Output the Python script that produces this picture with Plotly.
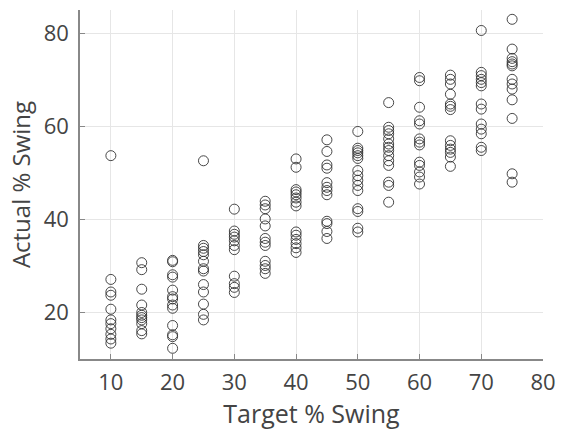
import plotly.graph_objects as go

targets = [10, 15, 20, 25, 30, 35, 40, 45, 50, 55, 60, 65, 70, 75]
actual_10 = [53.7, 27.1, 24.4, 23.7, 20.7, 18.4, 17.6, 16.5, 15.3, 14.3, 13.4]
actual_15 = [30.7, 29.2, 25.0, 21.6, 20.0, 19.4, 18.9, 18.4, 17.6, 16.1, 15.4]
actual_20 = [31.2, 30.9, 28.1, 27.6, 24.8, 23.4, 22.9, 21.6, 20.9, 17.2, 15.2, 14.8, 12.3]
actual_25 = [52.6, 34.4, 33.8, 33.1, 32.4, 31.0, 29.4, 28.9, 26.0, 24.4, 21.8, 19.6, 18.4]
actual_30 = [42.2, 37.5, 36.8, 36.2, 35.4, 34.4, 33.5, 27.8, 26.2, 25.4, 24.3]
actual_35 = [43.9, 43.1, 42.3, 40.1, 38.6, 35.9, 35.1, 34.4, 31.0, 30.1, 29.4, 28.4]
actual_40 = [53.0, 51.2, 46.4, 45.9, 45.3, 44.6, 43.7, 42.9, 37.3, 36.6, 35.7, 34.8, 33.9, 32.9]
actual_45 = [57.1, 54.6, 51.7, 51.0, 47.9, 46.9, 46.2, 45.3, 39.6, 39.1, 37.4, 35.9]
actual_50 = [58.9, 55.3, 54.8, 54.3, 53.7, 53.1, 50.5, 49.4, 48.4, 47.3, 46.2, 42.3, 41.7, 38.1, 37.3]
actual_55 = [65.1, 59.8, 59.1, 58.4, 57.3, 56.2, 55.5, 54.8, 53.7, 52.6, 51.6, 48.0, 47.3, 43.7]
actual_60 = [70.5, 69.8, 64.1, 61.2, 60.5, 57.3, 56.6, 56.0, 52.3, 51.6, 50.2, 49.1, 47.6]
actual_65 = [71.0, 70.1, 69.1, 66.9, 64.8, 64.3, 63.6, 56.9, 55.9, 55.1, 54.4, 53.4, 51.4]
actual_70 = [80.6, 71.6, 70.9, 70.1, 69.4, 68.7, 64.8, 63.7, 60.5, 59.4, 58.4, 55.5, 54.8]
actual_75 = [83.0, 76.6, 74.6, 73.9, 73.4, 73.0, 70.1, 69.1, 68.0, 65.7, 61.7, 49.8, 48.0]

groups = [actual_10, actual_15, actual_20, actual_25, actual_30, actual_35, actual_40,
          actual_45, actual_50, actual_55, actual_60, actual_65, actual_70, actual_75]

xs, ys = [], []
for t, g in zip(targets, groups):
    xs += [t] * len(g)
    ys += g

x_ticks = [10, 20, 30, 40, 50, 60, 70, 80]
y_ticks = [20, 40, 60, 80]

fig = go.Figure(go.Scatter(
    x=xs, y=ys, mode="markers",
    marker=dict(symbol="circle-open", size=10, color="#333333", line=dict(width=0.9, color="#333333")),
    showlegend=False,
))

font_family = "Open Sans, Noto Sans, sans-serif"
fig.update_layout(
    width=566, height=432,
    margin=dict(l=80, r=14, t=10, b=71),
    paper_bgcolor="white", plot_bgcolor="white",
    font=dict(family=font_family, color="#444444"),
)
fig.update_xaxes(
    range=[5, 80], tickvals=x_ticks, ticks="inside", ticklen=5, tickcolor="#888888",
    showline=True, linecolor="#888888", linewidth=1.5, mirror=False,
    showgrid=True, gridcolor="#e6e6e6", gridwidth=1, zeroline=False,
    tickfont=dict(size=22, color="#444444"),
    ticklabeloverflow="allow", ticklabelstandoff=3,
    title=dict(text="Target % Swing", font=dict(size=25, color="#444444"), standoff=8),
)
fig.update_yaxes(
    range=[10, 85], tickvals=y_ticks, ticks="inside", ticklen=5, tickcolor="#888888",
    showline=True, linecolor="#888888", linewidth=1.5, mirror=False,
    showgrid=True, gridcolor="#e6e6e6", gridwidth=1, zeroline=False,
    tickfont=dict(size=22, color="#444444"),
    ticklabelstandoff=5,
    title=dict(text="Actual % Swing", font=dict(size=24, color="#444444"), standoff=6),
)
fig.write_html(
    "out.html",
    config={"displayModeBar": False},
    post_script="document.body.style.margin='0';document.body.style.overflow='hidden';",
)
